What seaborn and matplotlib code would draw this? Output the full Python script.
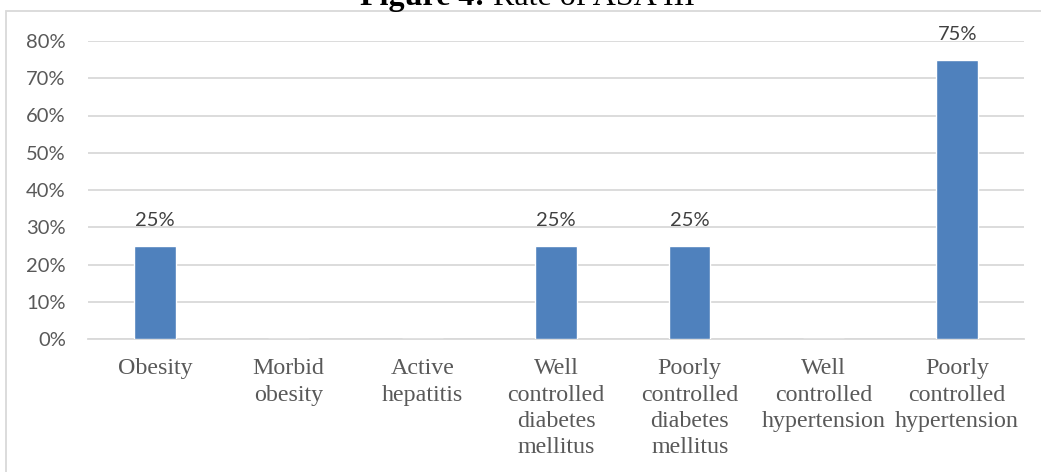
import matplotlib
matplotlib.use("Agg")
import matplotlib.pyplot as plt
from matplotlib.patches import Rectangle
from matplotlib.ticker import PercentFormatter
import seaborn as sns
import pandas as pd

# Chart data
categories = [
    "Obesity",
    "Morbid\nobesity",
    "Active\nhepatitis",
    "Well\ncontrolled\ndiabetes\nmellitus",
    "Poorly\ncontrolled\ndiabetes\nmellitus",
    "Well\ncontrolled\nhypertension",
    "Poorly\ncontrolled\nhypertension",
]
rates = [0.25, 0.0, 0.0, 0.25, 0.25, 0.0, 0.75]
y_ticks = [0.0, 0.1, 0.2, 0.3, 0.4, 0.5, 0.6, 0.7, 0.8]

title_bold = "Figure 4:"
title_rest = " Rate of ASA III"

BAR = "#4F81BD"
GRID = "#D9D9D9"
TEXT = "#595959"

sns.set_theme(style="white")
plt.rcParams["font.family"] = ["Lato", "DejaVu Sans"]

df = pd.DataFrame({"category": categories, "rate": rates})

fig = plt.figure(figsize=(10.41, 4.72), dpi=100)
ax = fig.add_axes([88 / 1041, 1 - 339 / 472, (1024 - 88) / 1041, (339 - 41) / 472])

sns.barplot(data=df, x="category", y="rate", color=BAR, width=0.31,
            saturation=1, ax=ax, zorder=3)

ax.set_ylim(0, 0.8)
ax.set_yticks(y_ticks)
ax.yaxis.set_major_formatter(PercentFormatter(1.0, decimals=0))
ax.set_xlim(-0.5, len(categories) - 0.5)
ax.grid(axis="y", color=GRID, linewidth=1.3, zorder=0)
ax.set_axisbelow(True)
for side in ("top", "right", "left"):
    ax.spines[side].set_visible(False)
ax.spines["bottom"].set_color(GRID)
ax.spines["bottom"].set_linewidth(1.3)
ax.set_xlabel("")
ax.set_ylabel("")

ax.tick_params(axis="y", length=0, pad=16, labelsize=14.5, labelcolor=TEXT)
ax.tick_params(axis="x", length=0, pad=14, labelcolor=TEXT)
for lbl in ax.get_xticklabels():
    lbl.set_fontfamily("Liberation Serif")
    lbl.set_fontsize(17.3)
    lbl.set_linespacing(1.32)
    lbl.set_verticalalignment("top")

# value labels on non-zero bars
for bar, val in zip(ax.patches, rates):
    if val > 0:
        ax.annotate(f"{val:.0%}", (bar.get_x() + bar.get_width() / 2, val),
                    xytext=(0, 12), textcoords="offset points",
                    ha="center", va="bottom", fontsize=14.5, color="#404040")

# chart frame
fig.patches.append(Rectangle((6 / 1041, -0.2), 1.2, 1.2 - 11 / 472,
                             transform=fig.transFigure, fill=False,
                             edgecolor=GRID, linewidth=1.3))

# title: bold prefix followed by regular text, centred as a whole
fig.canvas.draw()
r = fig.canvas.get_renderer()
t1 = fig.text(0, 1 - 5 / 472, title_bold, fontfamily="Liberation Serif",
              fontweight="bold", fontsize=23, color="black", va="baseline")
t2 = fig.text(0, 1 - 5 / 472, title_rest, fontfamily="Liberation Serif",
              fontsize=23, color="black", va="baseline")
w1 = t1.get_window_extent(r).width
w2 = t2.get_window_extent(r).width
x0 = 527 - (w1 + w2) / 2
t1.set_x(x0 / 1041)
t2.set_x((x0 + w1) / 1041)

fig.savefig("out.png", dpi=100)
